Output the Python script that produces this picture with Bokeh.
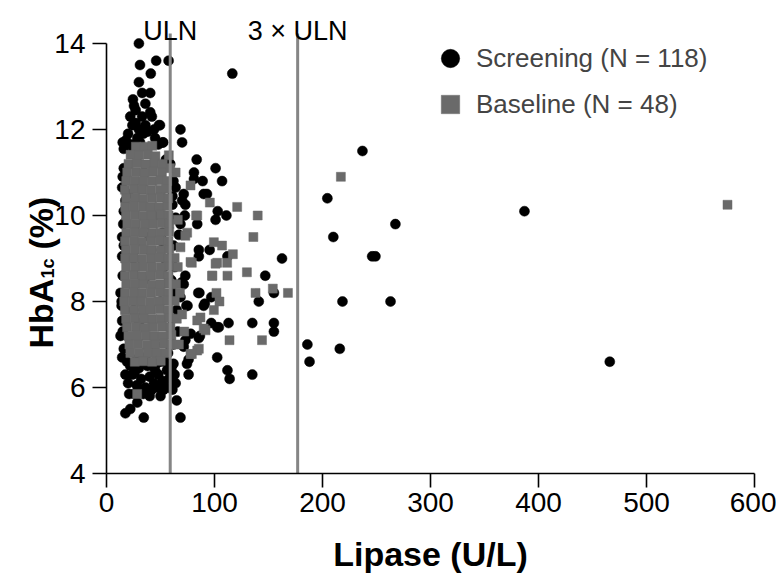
import math
from bokeh.plotting import figure
from bokeh.models import (FixedTicker, Legend, LegendItem, Label)
from bokeh.core.properties import value
from bokeh.embed import file_html
from bokeh.resources import INLINE

# ---------------- data ----------------
x_ticks = [0, 100, 200, 300, 400, 500, 600]
y_ticks = [4, 6, 8, 10, 12, 14]
ULN = 59
ULN3 = 3 * ULN

# Screening (black circles)
scr_x = [
    # upper part of the cluster
    30, 31, 46, 57.5, 41, 30, 33, 40.5, 24.5, 25.5, 27, 40.5, 42, 22, 33, 24, 49.5, 68.5, 70, 28.5,
    34, 15, 52, 16, 25, 36, 38, 30, 45, 20, 18, 27, 36, 44, 31, 48, 23, 116.5, 48.5, 52.5,
    # right edge of the cluster
    62, 64, 61, 61, 64, 71.5, 73, 68.5, 67, 70, 72.5, 59, 55, 62, 58, 63, 60, 70, 68.5, 73,
    74, 71.5, 75, 62, 65, 60, 66, 62, 78, 73, 71.5, 76, 62, 64,
    # 75-120 U/L
    83.5, 101, 81, 81, 89, 107, 90, 93, 103, 111, 101, 85.5, 95.5, 85.5, 112, 85, 90, 85.5, 102.5, 102.5,
    86, 91, 97, 113, 104, 97, 112, 114, 76, 74.5, 86.5, 84,
    # high lipase
    237, 204.5, 210, 246, 249, 267.5, 387, 466, 218.5, 263, 216, 186, 188, 162.5, 147, 141, 155, 155, 155, 135,
    135,
    # lower part of the cluster
    17.5, 22, 34.5, 68.5, 65, 50, 61, 28.5, 25.5, 17.5, 14.5, 53, 20, 24, 28, 32, 36, 40, 44, 48,
    52, 56, 22, 30, 38, 46, 54, 42, 34, 26, 58, 19, 45, 50, 36, 28, 57, 60, 40, 31,
    47, 55, 21, 63,
    # left edge
    13, 14.5, 13, 14.5, 14.5, 16, 14.5, 17.5, 16, 17.5, 15, 14, 16, 15.5, 15, 16, 14, 15,
    # inside the cluster
    25, 35, 45, 30, 40, 50, 20, 35, 45, 25, 52, 53, 51,
]
scr_y = [
    14.0, 13.5, 13.6, 13.6, 13.3, 13.1, 12.85, 12.85, 12.7, 12.55, 12.45, 12.4, 12.3, 12.3, 12.3, 12.1, 12.1, 12.0, 11.7, 11.8,
    11.9, 11.7, 11.7, 11.55, 11.55, 12.1, 11.95, 12.0, 11.8, 11.9, 11.75, 12.15, 12.6, 12.0, 11.7, 11.65, 11.65, 13.3, 12.1, 11.7,
    10.8, 10.65, 10.45, 10.25, 9.95, 10.5, 10.25, 9.8, 9.55, 10.35, 10.0, 11.2, 11.3, 9.3, 9.0, 8.8, 8.5, 8.45, 8.1, 8.6,
    7.9, 8.4, 7.9, 8.2, 7.8, 7.6, 7.3, 7.0, 7.25, 7.1, 6.95, 6.65, 6.55, 6.1,
    11.3, 11.1, 11.0, 10.85, 10.8, 10.8, 10.5, 10.5, 10.1, 10.0, 9.9, 9.2, 9.2, 9.05, 9.05, 8.2, 7.9, 7.15, 6.7, 7.4,
    8.2, 7.95, 8.1, 7.5, 7.4, 7.5, 6.4, 6.2, 6.3, 6.55, 7.2, 9.8,
    11.5, 10.4, 9.5, 9.05, 9.05, 9.8, 10.1, 6.6, 8.0, 8.0, 6.9, 7.0, 6.6, 9.0, 8.6, 8.0, 8.2, 7.5, 7.3, 7.5,
    6.3,
    5.4, 5.5, 5.3, 5.3, 5.7, 5.8, 5.95, 5.65, 5.85, 6.3, 6.7, 5.95, 6.1, 6.3, 6.05, 6.2, 6.0, 6.25, 6.1, 6.3,
    6.15, 6.4, 6.5, 6.45, 6.5, 6.55, 6.6, 5.95, 5.85, 6.35, 6.2, 6.6, 6.4, 6.6, 6.7, 6.65, 6.8, 6.45, 5.8, 5.95,
    6.0, 6.0, 5.85, 6.3,
    7.2, 7.55, 8.2, 9.05, 9.5, 11.1, 10.65, 10.35, 10.1, 9.85, 8.6, 7.9, 9.3, 9.8, 10.9, 6.9, 8.0, 7.3,
    9.0, 8.5, 10.0, 7.5, 9.5, 8.0, 10.5, 11.0, 7.0, 7.8, 9.6, 8.8, 9.2,
]

# Baseline (grey squares)
bas_x = [
    # dense block, row by row from the top
    27.2, 35.1, 42.4,
    22.3, 30.1, 38.2, 45.3,
    20.4, 28.2, 36.1, 44.3, 52.1,
    19.2, 27.4, 35.2, 43.1, 51.3,
    18.3, 26.1, 34.2, 42.4, 50.1, 56.2,
    17.1, 25.3, 33.2, 41.1, 49.4, 55.2,
    18.2, 26.4, 34.1, 42.2, 50.3, 57.1,
    17.3, 25.1, 33.4, 41.2, 49.1, 56.3,
    18.1, 26.2, 34.3, 42.1, 50.2, 57.4,
    19.3, 27.1, 35.3, 43.2, 51.1, 58.2,
    18.4, 26.3, 34.2, 42.3, 50.1, 58.1,
    17.2, 25.4, 33.1, 41.3, 49.2, 57.3,
    18.1, 26.2, 34.4, 42.1, 50.3, 58.2,
    17.3, 25.1, 33.2, 41.4, 49.1, 57.2, 63.1,
    18.2, 26.3, 34.1, 42.2, 50.4, 58.1,
    17.1, 25.2, 33.3, 41.1, 49.2, 57.4,
    18.3, 26.1, 34.2, 42.4, 50.1, 58.3, 64.2,
    17.2, 25.3, 33.1, 41.2, 49.3, 57.1,
    16.4, 24.2, 32.1, 40.3, 48.2, 56.1, 63.2,
    17.1, 25.2, 33.4, 41.1, 49.2, 57.3,
    18.2, 26.1, 34.3, 42.2, 50.1, 58.2, 65.1,
    19.1, 27.3, 35.2, 43.1, 51.4, 59.2,
    20.3, 28.1, 36.2, 44.4, 52.1, 60.1,
    21.2, 29.1, 37.3, 45.2, 53.1, 60.3,
    22.1, 30.2, 38.1, 46.3, 54.2,
    26.2, 34.1, 42.3, 50.2,
    # scattered points
    575, 217, 121, 140, 83, 136, 95.7, 77.8, 64, 57.7, 99.4, 107, 117, 111.7, 102.5, 79, 130, 97.8, 112, 154,
    138, 168, 101.8, 104.6, 99.4, 87, 91.7, 113.9, 144, 85.5, 77.8, 74.7, 73, 101, 98, 84, 90, 84, 79, 28.4,
    77.8, 68.5, 59, 84, 66, 68, 70, 72, 67, 66,
]
bas_y = [
    11.6, 11.6, 11.62,
    11.41, 11.4, 11.42, 11.38,
    11.2, 11.22, 11.19, 11.21, 11.2,
    11.0, 11.01, 10.99, 11.02, 11.0,
    10.8, 10.81, 10.79, 10.8, 10.82, 10.8,
    10.6, 10.61, 10.6, 10.59, 10.6, 10.62,
    10.4, 10.41, 10.39, 10.4, 10.42, 10.4,
    10.2, 10.21, 10.2, 10.19, 10.2, 10.22,
    10.0, 10.01, 9.99, 10.0, 10.02, 10.0,
    9.8, 9.81, 9.79, 9.8, 9.82, 9.8,
    9.6, 9.61, 9.6, 9.59, 9.6, 9.62,
    9.4, 9.41, 9.39, 9.4, 9.42, 9.4,
    9.2, 9.21, 9.2, 9.19, 9.2, 9.22,
    9.0, 9.01, 8.99, 9.0, 9.02, 9.0, 9.01,
    8.8, 8.81, 8.8, 8.79, 8.8, 8.82,
    8.6, 8.61, 8.59, 8.6, 8.62, 8.6,
    8.4, 8.41, 8.4, 8.39, 8.4, 8.42, 8.4,
    8.2, 8.21, 8.19, 8.2, 8.22, 8.2,
    8.0, 8.01, 8.0, 7.99, 8.0, 8.02, 8.01,
    7.8, 7.81, 7.79, 7.8, 7.82, 7.8,
    7.6, 7.61, 7.6, 7.59, 7.6, 7.62, 7.6,
    7.4, 7.41, 7.39, 7.4, 7.42, 7.4,
    7.2, 7.21, 7.2, 7.19, 7.2, 7.22,
    7.0, 7.01, 6.99, 7.0, 7.02, 7.0,
    6.8, 6.81, 6.8, 6.79, 6.8,
    6.6, 6.61, 6.6, 6.62,
    10.25, 10.9, 10.2, 10.0, 10.0, 9.5, 10.3, 10.7, 11.0, 11.4, 9.38, 9.3, 9.1, 8.9, 8.9, 8.9, 8.68, 8.6, 8.6, 8.3,
    8.2, 8.2, 8.2, 8.0, 7.8, 7.63, 7.33, 7.1, 7.1, 6.9, 6.78, 9.6, 9.53, 8.88, 8.6, 7.56, 7.37, 6.86, 6.78, 5.85,
    8.92, 9.26, 11.1, 10.0, 9.9, 8.2, 7.7, 7.3, 7.0, 8.8,
]

line_x = [ULN, ULN3]
line_y0 = [4, 4]
line_y1 = [14.23, 14.23]
line_labels = ["ULN", "3 \u00d7 ULN"]

# y-axis title pieces: (text, font size)
ytitle_parts = [("HbA", "34px"), ("1c", "18px"), ("(%)", "34px")]

# ---------------- plot ----------------
FONT = "Liberation Sans"
W, H = 776, 580
LEFT, BOTTOM = 106, 107          # axis origin in canvas pixels (from left / from bottom)
PX_X, PX_Y = 1.08, 43.0           # pixels per data unit

p = figure(width=W, height=H,
           x_range=(-LEFT / PX_X, (W - LEFT) / PX_X),
           y_range=(4 - BOTTOM / PX_Y, 4 + (H - BOTTOM) / PX_Y),
           output_backend="svg", toolbar_location=None,
           min_border_left=0, min_border_right=0, min_border_top=0, min_border_bottom=0)
p.xgrid.visible = False
p.ygrid.visible = False
p.outline_line_color = None
p.background_fill_color = "white"
p.border_fill_color = "white"

r_scr = p.scatter(scr_x, scr_y, marker="circle", size=10, fill_color="black", line_color="black", line_width=0.5)
r_bas = p.scatter(bas_x, bas_y, marker="square", size=9, fill_color="#6a6a6a", line_color="#6a6a6a", line_width=0.5)

p.segment(x0=line_x, y0=line_y0, x1=line_x, y1=line_y1, line_color="#858585", line_width=3)
p.text(x=line_x, y=[14.30, 14.30], text=line_labels, text_align="center", text_baseline="alphabetic",
       text_font=value(FONT), text_font_size="27px", text_color="black")

for ax in (p.xaxis[0], p.yaxis[0]):
    ax.axis_line_color = "black"
    ax.axis_line_width = 1.6
    ax.major_tick_line_color = "black"
    ax.major_tick_line_width = 1.6
    ax.major_tick_in = 0
    ax.minor_tick_line_color = None
    ax.major_label_text_font = FONT
    ax.major_label_text_font_size = "28px"
    ax.major_label_text_color = "black"

p.xaxis.ticker = FixedTicker(ticks=x_ticks)
p.yaxis.ticker = FixedTicker(ticks=y_ticks)
p.xaxis.fixed_location = 4
p.yaxis.fixed_location = 0
p.xaxis.bounds = (0, 600)
p.yaxis.bounds = (4, 14)
p.xaxis.major_tick_out = 14
p.yaxis.major_tick_out = 14
p.xaxis.major_label_standoff = 5
p.yaxis.major_label_standoff = 7

p.xaxis.axis_label = "Lipase (U/L)"
p.xaxis.axis_label_text_font = FONT
p.xaxis.axis_label_text_font_style = "bold"
p.xaxis.axis_label_text_font_size = "34px"
p.xaxis.axis_label_text_color = "black"
p.xaxis.axis_label_standoff = 20

# y axis title with subscript, built from three rotated pieces (screen px from bottom-left)
y_title_pos = [(40, 232), (47, 302), (40, 331)]
for (txt, fs), (sx, sy) in zip(ytitle_parts, y_title_pos):
    p.add_layout(Label(x=sx, y=sy, x_units="screen", y_units="screen",
                       text=txt, angle=math.pi / 2,
                       text_font=FONT, text_font_style="bold", text_font_size=fs,
                       text_color="black", text_align="left", text_baseline="alphabetic"))

legend = Legend(items=[LegendItem(label="Screening (N = 118)", renderers=[r_scr]),
                       LegendItem(label="Baseline (N = 48)", renderers=[r_bas])],
                location=(427, 453), glyph_width=46, glyph_height=46, spacing=0, padding=0, margin=0,
                label_standoff=3, label_text_font=FONT, label_text_font_size="26px",
                label_text_baseline="middle", border_line_color=None, background_fill_alpha=0)
p.add_layout(legend)

open("out.html", "w").write(file_html(p, INLINE))
